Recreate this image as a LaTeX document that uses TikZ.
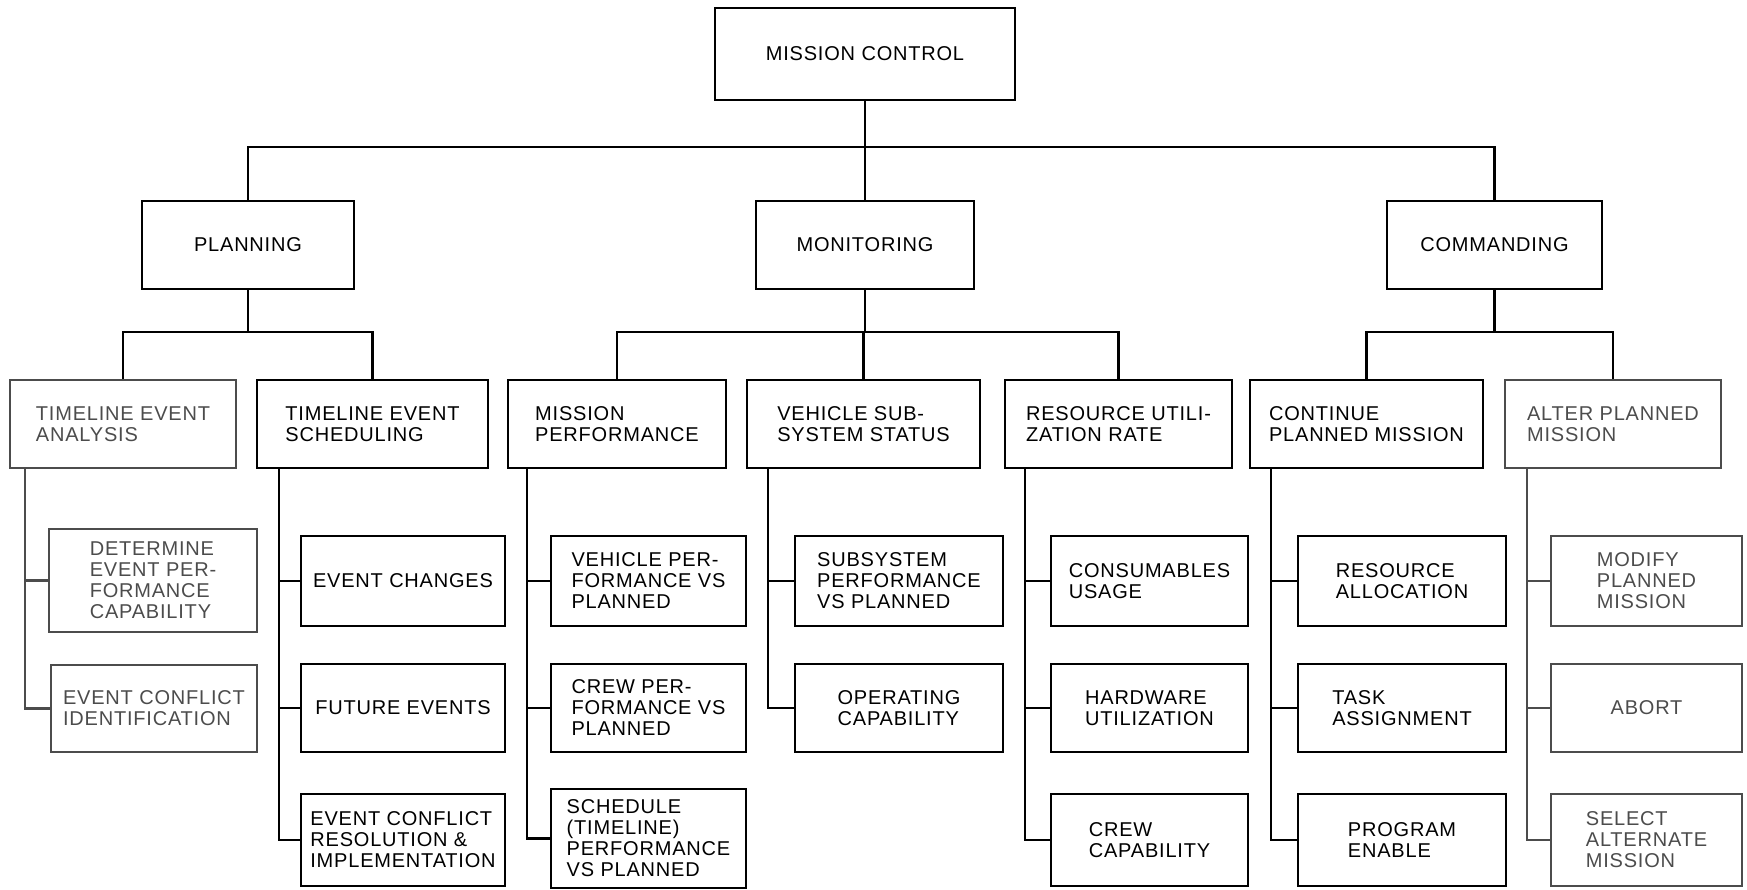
\documentclass[tikz,border=0pt]{standalone}
\usepackage{fontspec}
\setmainfont{Liberation Sans}[LetterSpace=4]
\usetikzlibrary{calc}
\tikzset{
  box/.style={draw, line width=2pt, align=left, inner sep=2pt, font=\fontsize{20}{21}\selectfont},
  faint/.style={draw=black!70, text=black!70},
  wire/.style={line width=2.4pt},
}

\begin{document}
\begin{tikzpicture}[x=1pt, y=-1pt]
    \useasboundingbox (0,0) rectangle (1747,890);

    % top and second level
    \node[box, minimum width=300, minimum height=92] (mc) at (865,54) {MISSION CONTROL};
    \node[box, minimum width=212, minimum height=88] (pl) at (248,245) {PLANNING};
    \node[box, minimum width=218, minimum height=88] (mo) at (865,245) {MONITORING};
    \node[box, minimum width=215, minimum height=88] (cm) at (1494.5,245) {COMMANDING};

    % third level
    \node[box, faint, minimum width=226, minimum height=88] (tea) at (123,424) {TIMELINE EVENT\\ANALYSIS};
    \node[box, minimum width=231, minimum height=88] (tes) at (372.5,424) {TIMELINE EVENT\\SCHEDULING};
    \node[box, minimum width=218, minimum height=88] (mp) at (617,424) {MISSION\\PERFORMANCE};
    \node[box, minimum width=233, minimum height=88] (vss) at (863.5,424) {VEHICLE SUB-\\SYSTEM STATUS};
    \node[box, minimum width=227, minimum height=88] (rur) at (1118.5,424) {RESOURCE UTILI-\\ZATION RATE};
    \node[box, minimum width=233, minimum height=88] (cpm) at (1366.5,424) {CONTINUE\\PLANNED MISSION};
    \node[box, faint, minimum width=216, minimum height=88] (apm) at (1613,424) {ALTER PLANNED\\MISSION};

    % timeline event analysis
    \node[box, faint, minimum width=208, minimum height=103] (depc) at (153,580.5) {DETERMINE\\EVENT PER-\\FORMANCE\\CAPABILITY};
    \node[box, faint, minimum width=206, minimum height=87] (eci) at (154,708.5) {EVENT CONFLICT\\IDENTIFICATION};
    % timeline event scheduling
    \node[box, minimum width=204, minimum height=90] (ec) at (403,581) {EVENT CHANGES};
    \node[box, minimum width=204, minimum height=88] (fe) at (403,708) {FUTURE EVENTS};
    \node[box, minimum width=204, minimum height=92] (ecri) at (403,840) {EVENT CONFLICT\\RESOLUTION \&\\IMPLEMENTATION};
    % mission performance
    \node[box, minimum width=195, minimum height=90] (vpvp) at (648.5,581) {VEHICLE PER-\\FORMANCE VS\\PLANNED};
    \node[box, minimum width=195, minimum height=88] (cpvp) at (648.5,708) {CREW PER-\\FORMANCE VS\\PLANNED};
    \node[box, minimum width=195, minimum height=99] (stpvp) at (648.5,838.5) {SCHEDULE\\(TIMELINE)\\PERFORMANCE\\VS PLANNED};
    % vehicle subsystem status
    \node[box, minimum width=208, minimum height=90] (spvp) at (899,581) {SUBSYSTEM\\PERFORMANCE\\VS PLANNED};
    \node[box, minimum width=208, minimum height=88] (oc) at (899,708) {OPERATING\\CAPABILITY};
    % resource utilization rate
    \node[box, minimum width=197, minimum height=90] (cu) at (1149.5,581) {CONSUMABLES\\USAGE};
    \node[box, minimum width=197, minimum height=88] (hu) at (1149.5,708) {HARDWARE\\UTILIZATION};
    \node[box, minimum width=197, minimum height=92] (cc) at (1149.5,840) {CREW\\CAPABILITY};
    % continue planned mission
    \node[box, minimum width=208, minimum height=90] (ra) at (1402,581) {RESOURCE\\ALLOCATION};
    \node[box, minimum width=208, minimum height=88] (ta) at (1402,708) {TASK\\ASSIGNMENT};
    \node[box, minimum width=208, minimum height=92] (pe) at (1402,840) {PROGRAM\\ENABLE};
    % alter planned mission
    \node[box, faint, minimum width=191, minimum height=90] (mpm) at (1646.5,581) {MODIFY\\PLANNED\\MISSION};
    \node[box, faint, minimum width=191, minimum height=88] (ab) at (1646.5,708) {ABORT};
    \node[box, faint, minimum width=191, minimum height=92] (sam) at (1646.5,840) {SELECT\\ALTERNATE\\MISSION};

    % bus points
    \coordinate (mcb) at (865,147);
    \coordinate (plb) at (248,332);
    \coordinate (mob) at (865,332);
    \coordinate (cmb) at (1494.5,332);

    % mission control to planning, monitoring, commanding
    \draw[wire] (mc.south) -- (mcb);
    \draw[wire] (pl.north) |- (mcb);
    \draw[wire] (mo.north) -- (mcb);
    \draw[wire] (cm.north) |- (mcb);

    % planning to its tasks
    \draw[wire] (pl.south) -- (plb);
    \draw[wire] (tea.north) |- (plb);
    \draw[wire] (tes.north) |- (plb);
    % monitoring to its tasks
    \draw[wire] (mo.south) -- (mob);
    \draw[wire] (mp.north) |- (mob);
    \draw[wire] (vss.north) |- (mob);
    \draw[wire] (rur.north) |- (mob);
    % commanding to its tasks
    \draw[wire] (cm.south) -- (cmb);
    \draw[wire] (cpm.north) |- (cmb);
    \draw[wire] (apm.north) |- (cmb);

    % tea to depc, eci
    \draw[wire, black!70] ([xshift=16]tea.south west) |- (depc.west);
    \draw[wire, black!70] ([xshift=16]tea.south west) |- (eci.west);
    % tes to ec, fe, ecri
    \draw[wire] ([xshift=23]tes.south west) |- (ec.west);
    \draw[wire] ([xshift=23]tes.south west) |- (fe.west);
    \draw[wire] ([xshift=23]tes.south west) |- (ecri.west);
    % mp to vpvp, cpvp, stpvp
    \draw[wire] ([xshift=20]mp.south west) |- (vpvp.west);
    \draw[wire] ([xshift=20]mp.south west) |- (cpvp.west);
    \draw[wire] ([xshift=20]mp.south west) |- (stpvp.west);
    % vss to spvp, oc
    \draw[wire] ([xshift=22]vss.south west) |- (spvp.west);
    \draw[wire] ([xshift=22]vss.south west) |- (oc.west);
    % rur to cu, hu, cc
    \draw[wire] ([xshift=21]rur.south west) |- (cu.west);
    \draw[wire] ([xshift=21]rur.south west) |- (hu.west);
    \draw[wire] ([xshift=21]rur.south west) |- (cc.west);
    % cpm to ra, ta, pe
    \draw[wire] ([xshift=22]cpm.south west) |- (ra.west);
    \draw[wire] ([xshift=22]cpm.south west) |- (ta.west);
    \draw[wire] ([xshift=22]cpm.south west) |- (pe.west);
    % apm to mpm, ab, sam
    \draw[wire, black!70] ([xshift=23]apm.south west) |- (mpm.west);
    \draw[wire, black!70] ([xshift=23]apm.south west) |- (ab.west);
    \draw[wire, black!70] ([xshift=23]apm.south west) |- (sam.west);
\end{tikzpicture}
\end{document}
